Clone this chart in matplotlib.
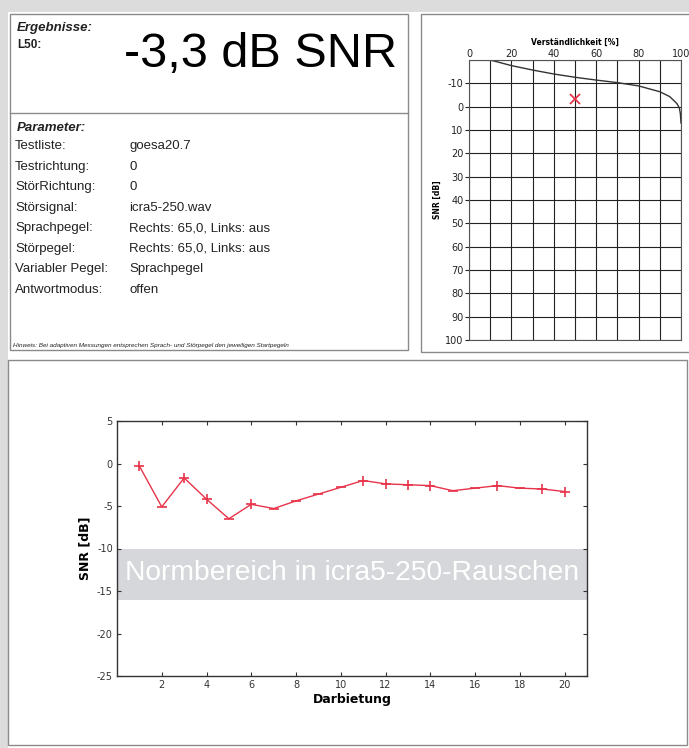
import matplotlib.pyplot as plt
from matplotlib.patches import Rectangle

plt.rcParams['axes.unicode_minus'] = False

W, H = 689, 748

# Ergebnis
l50_text = "-3,3 dB SNR"
l50 = -3.3

# Parameter table
param_labels = ["Testliste:", "Testrichtung:", "StörRichtung:", "Störsignal:",
                "Sprachpegel:", "Störpegel:", "Variabler Pegel:", "Antwortmodus:"]
param_values = ["goesa20.7", "0", "0", "icra5-250.wav",
                "Rechts: 65,0, Links: aus", "Rechts: 65,0, Links: aus",
                "Sprachpegel", "offen"]
hinweis = "Hinweis: Bei adaptiven Messungen entsprechen Sprach- und Störpegel den jeweiligen Startpegeln"

# Diskriminationskurve (Verständlichkeit vs SNR)
curve_pct = [10, 20, 30, 40, 50, 60, 70, 80, 90, 94.7, 98, 99.2, 99.7, 100]
curve_snr = [-20, -17.6, -15.7, -14.0, -12.6, -11.4, -10.3, -8.9, -6.4, -4.3, -1.4, 0.5, 3, 7]

# Adaptiver Verlauf
trial = list(range(1, 21))
snr_track = [-0.3, -5.1, -1.7, -4.2, -6.5, -4.8, -5.3, -4.4, -3.6, -2.8,
             -2.0, -2.4, -2.5, -2.6, -3.2, -2.9, -2.6, -2.9, -3.0, -3.3]
marks = ['+', '_', '+', '+', '_', '+', '_', '_', '_', '_',
         '+', '+', '+', '+', '_', '_', '+', '_', '+', '+']
norm_lo, norm_hi = -16, -10

fig = plt.figure(figsize=(W / 100, H / 100), dpi=100)
fig.patch.set_facecolor('#dcdcdc')

# page background in pixel coords
bg = fig.add_axes([0, 0, 1, 1])
bg.set_xlim(0, W)
bg.set_ylim(H, 0)
bg.axis('off')
bg.add_patch(Rectangle((8, 12), W - 8, H - 12, facecolor='white', edgecolor='none'))
frame = dict(facecolor='none', edgecolor='#8a8a8a', lw=1.0)
bg.add_patch(Rectangle((10, 14), 398, 336, **frame))
bg.plot([10, 408], [113, 113], color='#8a8a8a', lw=1.0)
bg.add_patch(Rectangle((421, 14), 280, 338, **frame))
bg.add_patch(Rectangle((8, 360), 679, 385, **frame))

txt = dict(family='Liberation Sans', color='#222222')
bg.text(17, 28, "Ergebnisse:", fontsize=9.5, weight='bold', style='italic', va='center', **txt)
bg.text(17, 45, "L50:", fontsize=8.5, weight='bold', va='center', **txt)
bg.text(124, 67, l50_text, fontsize=35, ha='left', va='baseline', family='Liberation Sans', color='black')
bg.text(17, 128, "Parameter:", fontsize=9.5, weight='bold', style='italic', va='center', **txt)
for i, (lab, val) in enumerate(zip(param_labels, param_values)):
    y = 146 + i * 20.5
    bg.text(15, y, lab, fontsize=9.5, va='center', **txt)
    bg.text(129, y, val, fontsize=9.5, va='center', **txt)
bg.text(13, 345, hinweis, fontsize=4.6, style='italic', va='center', **txt)

# Verständlichkeit chart
ax1 = fig.add_axes([469 / W, 1 - 340 / H, 212 / W, 280 / H])
ax1.plot(curve_pct, curve_snr, color='#333333', lw=1.0)
ax1.plot([50], [l50], marker='x', color='#e8334a', ms=7, mew=1.3, ls='none')
ax1.set_xlim(0, 100)
ax1.set_ylim(100, -20)
ax1.set_xticks(range(0, 101, 20))
ax1.set_xticks(range(0, 101, 10), minor=True)
ax1.set_yticks(range(-10, 101, 10))
ax1.set_yticks(range(-20, 101, 10), minor=True)
ax1.grid(True, which='both', color='#222222', lw=0.8)
ax1.xaxis.tick_top()
ax1.xaxis.set_label_position('top')
ax1.tick_params(axis='both', which='major', labelsize=7, length=3, pad=1, colors='#222222')
ax1.tick_params(axis='both', which='minor', length=0)
ax1.tick_params(axis='x', length=0)
for s in ax1.spines.values():
    s.set_color('#555555')
    s.set_linewidth(0.8)
ax1.set_xlabel("Verständlichkeit [%]", fontsize=5.5, weight='bold', labelpad=3)
ax1.set_ylabel("SNR [dB]", fontsize=5.5, weight='bold', labelpad=2)

# Adaptiver Verlauf chart
ax2 = fig.add_axes([117 / W, 1 - 676 / H, 470 / W, 255 / H])
ax2.axhspan(norm_lo, norm_hi, color='#d5d7da', lw=0)
ax2.text(0.35, (norm_lo + norm_hi) / 2 + 0.1, "Normbereich in icra5-250-Rauschen",
         fontsize=20.3, color='white', va='center', ha='left', family='Liberation Sans')
red = '#e8334a'
ax2.plot(trial, snr_track, color=red, lw=1.0)
for x, y, m in zip(trial, snr_track, marks):
    ax2.plot(x, y, marker=m, color=red, ms=7, mew=1.2, ls='none')
ax2.set_xlim(0, 21)
ax2.set_ylim(-25, 5)
ax2.set_xticks(range(2, 21, 2))
ax2.set_yticks(range(-25, 6, 5))
ax2.tick_params(direction='in', top=True, right=True, labelsize=7, length=3,
                colors='#333333', pad=3)
for s in ax2.spines.values():
    s.set_color('#333333')
    s.set_linewidth(1.0)
ax2.set_xlabel("Darbietung", fontsize=9, weight='bold', labelpad=2)
ax2.set_ylabel("SNR [dB]", fontsize=9, weight='bold', labelpad=4)

fig.savefig("out.png", dpi=100, facecolor=fig.get_facecolor())
